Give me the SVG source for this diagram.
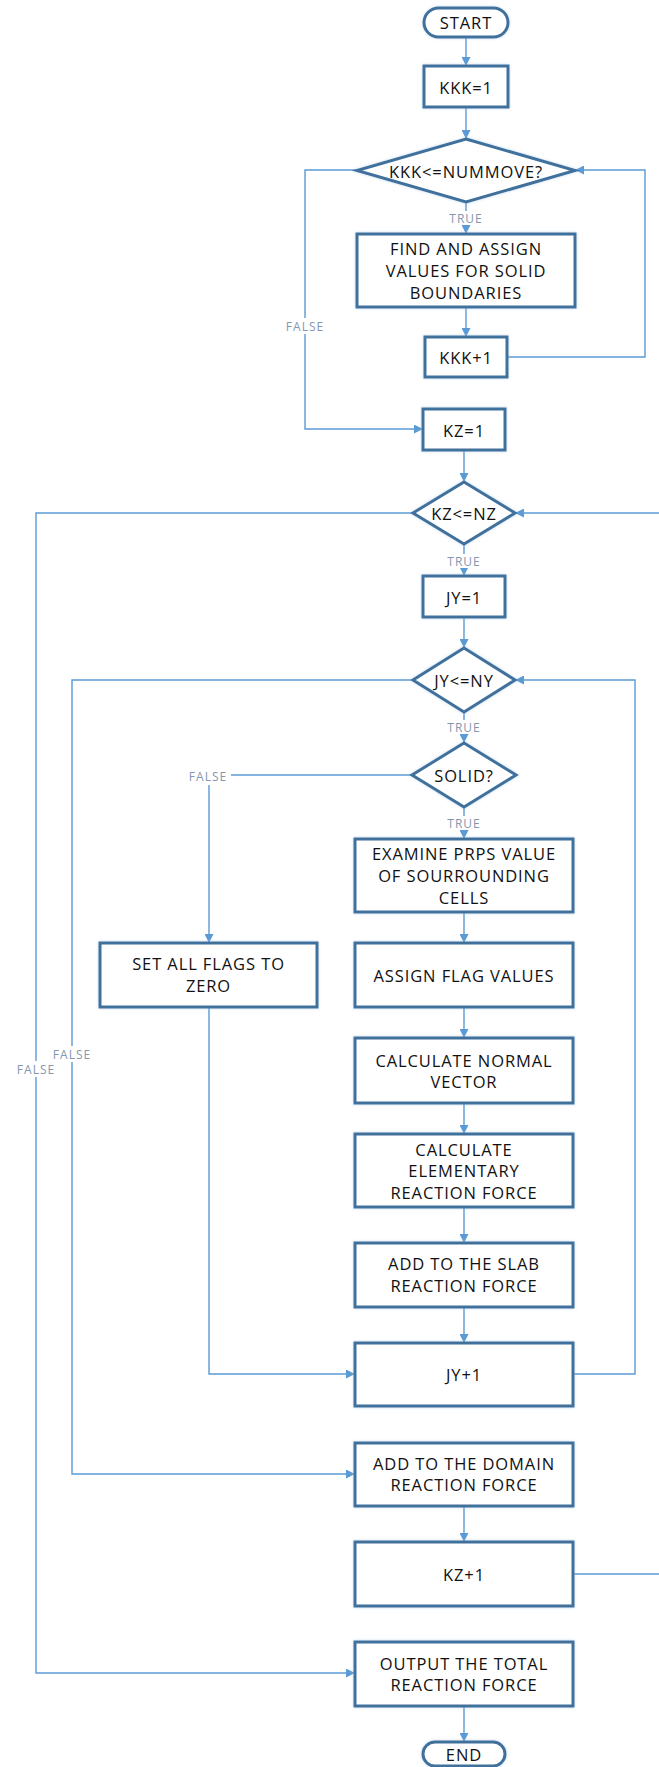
<svg xmlns="http://www.w3.org/2000/svg" width="659" height="1767" viewBox="0 0 659 1767">
<style>
.box{fill:#fff;stroke:#41719C;stroke-width:3;filter:url(#glow)}
.t{font-family:"Open Sans","Liberation Sans",sans-serif;font-size:16.5px;letter-spacing:0.9px;fill:#111;text-anchor:middle;dominant-baseline:central}
.c{fill:none;stroke:#5B9BD5;stroke-width:1.4}
.a{marker-end:url(#ah)}
.lb{font-family:"Open Sans","Liberation Sans",sans-serif;font-size:12px;letter-spacing:1px;fill:#8497B0;text-anchor:middle;dominant-baseline:central}
.bg{fill:#fff}
</style>
<defs>
<marker id="ah" viewBox="0 0 10 10" refX="10" refY="5" markerWidth="9" markerHeight="9" markerUnits="userSpaceOnUse" orient="auto">
<path d="M0,0 L10,5 L0,10 z" fill="#5B9BD5"/>
</marker>
<filter id="glow" x="-10%" y="-20%" width="120%" height="140%">
<feDropShadow dx="0" dy="0" stdDeviation="1.5" flood-color="#9DC3E6" flood-opacity="0.6"/>
</filter>
</defs>

<g id="connectors">
<path class="c a" d="M466,37 V66"/>
<path class="c a" d="M466,107 V139"/>
<path class="c a" d="M466,202 V234"/>
<path class="c a" d="M466,307 V337"/>
<path class="c a" d="M507,357 H645 V170 H575"/>
<path class="c a" d="M357,170 H305 V429 H423"/>
<path class="c a" d="M464,450 V482"/>
<path class="c a" d="M464,544 V576"/>
<path class="c a" d="M464,617 V648"/>
<path class="c a" d="M464,712 V743"/>
<path class="c a" d="M464,807 V839"/>
<path class="c a" d="M464,912 V943"/>
<path class="c a" d="M464,1007 V1038"/>
<path class="c a" d="M464,1103 V1134"/>
<path class="c a" d="M464,1207 V1243"/>
<path class="c a" d="M464,1307 V1343"/>
<path class="c a" d="M464,1506 V1542"/>
<path class="c a" d="M464,1706 V1742"/>
<path class="c a" d="M412,775 H209 V943"/>
<path class="c a" d="M209,1007 V1374 H355"/>
<path class="c a" d="M573,1374 H635 V680 H515"/>
<path class="c a" d="M413,680 H72 V1474 H355"/>
<path class="c a" d="M573,1574 H665 V513 H515"/>
<path class="c a" d="M413,513 H36 V1673 H355"/>
</g>

<g id="labels">
<rect class="bg" x="446" y="211" width="40" height="14"/><text class="lb" x="466" y="218">TRUE</text>
<rect class="bg" x="283" y="318" width="44" height="16"/><text class="lb" x="305" y="326">FALSE</text>
<rect class="bg" x="444" y="554" width="40" height="14"/><text class="lb" x="464" y="561">TRUE</text>
<rect class="bg" x="444" y="720" width="40" height="14"/><text class="lb" x="464" y="727">TRUE</text>
<rect class="bg" x="186" y="767" width="45" height="18"/><text class="lb" x="208" y="776">FALSE</text>
<rect class="bg" x="444" y="816" width="40" height="14"/><text class="lb" x="464" y="823">TRUE</text>
<rect class="bg" x="50" y="1046" width="44" height="16"/><text class="lb" x="72" y="1054">FALSE</text>
<rect class="bg" x="14" y="1061" width="44" height="16"/><text class="lb" x="36" y="1069">FALSE</text>
</g>

<g id="start"><rect class="box" x="424" y="8" width="84" height="29" rx="14.5"/><text class="t" x="466" y="22.5">START</text></g>
<g id="kkk1"><rect class="box" x="424" y="66" width="84" height="41"/><text class="t" x="466" y="87">KKK=1</text></g>
<g id="kkkcond"><polygon class="box" points="466,139 575,170.5 466,202 357,170.5"/><text class="t" x="466" y="171">KKK&lt;=NUMMOVE?</text></g>
<g id="find"><rect class="box" x="357" y="234" width="218" height="73"/><text class="t" x="466" y="248">FIND AND ASSIGN</text><text class="t" x="466" y="270">VALUES FOR SOLID</text><text class="t" x="466" y="292">BOUNDARIES</text></g>
<g id="kkkinc"><rect class="box" x="425" y="337" width="82" height="40"/><text class="t" x="466" y="357">KKK+1</text></g>
<g id="kz1"><rect class="box" x="423" y="409" width="82" height="41"/><text class="t" x="464" y="430">KZ=1</text></g>
<g id="kzcond"><polygon class="box" points="464,482 515,513 464,544 413,513"/><text class="t" x="464" y="513">KZ&lt;=NZ</text></g>
<g id="jy1"><rect class="box" x="423" y="576" width="82" height="41"/><text class="t" x="464" y="597">JY=1</text></g>
<g id="jycond"><polygon class="box" points="464,648 515,680 464,712 413,680"/><text class="t" x="464" y="680">JY&lt;=NY</text></g>
<g id="solid"><polygon class="box" points="464,743 516,775 464,807 412,775"/><text class="t" x="464" y="775">SOLID?</text></g>
<g id="examine"><rect class="box" x="355" y="839" width="218" height="73"/><text class="t" x="464" y="853">EXAMINE PRPS VALUE</text><text class="t" x="464" y="875">OF SOURROUNDING</text><text class="t" x="464" y="897">CELLS</text></g>
<g id="setflags"><rect class="box" x="100" y="943" width="217" height="64"/><text class="t" x="208.5" y="963">SET ALL FLAGS TO</text><text class="t" x="208.5" y="985">ZERO</text></g>
<g id="assign"><rect class="box" x="355" y="943" width="218" height="64"/><text class="t" x="464" y="975">ASSIGN FLAG VALUES</text></g>
<g id="normal"><rect class="box" x="355" y="1038" width="218" height="65"/><text class="t" x="464" y="1060">CALCULATE NORMAL</text><text class="t" x="464" y="1081">VECTOR</text></g>
<g id="elem"><rect class="box" x="355" y="1134" width="218" height="73"/><text class="t" x="464" y="1149">CALCULATE</text><text class="t" x="464" y="1170">ELEMENTARY</text><text class="t" x="464" y="1192">REACTION FORCE</text></g>
<g id="slab"><rect class="box" x="355" y="1243" width="218" height="64"/><text class="t" x="464" y="1263">ADD TO THE SLAB</text><text class="t" x="464" y="1285">REACTION FORCE</text></g>
<g id="jyinc"><rect class="box" x="355" y="1343" width="218" height="63"/><text class="t" x="464" y="1374">JY+1</text></g>
<g id="domain"><rect class="box" x="355" y="1443" width="218" height="63"/><text class="t" x="464" y="1463">ADD TO THE DOMAIN</text><text class="t" x="464" y="1484">REACTION FORCE</text></g>
<g id="kzinc"><rect class="box" x="355" y="1542" width="218" height="64"/><text class="t" x="464" y="1574">KZ+1</text></g>
<g id="output"><rect class="box" x="355" y="1642" width="218" height="64"/><text class="t" x="464" y="1663">OUTPUT THE TOTAL</text><text class="t" x="464" y="1684">REACTION FORCE</text></g>
<g id="end"><rect class="box" x="423" y="1742" width="82" height="24" rx="12"/><text class="t" x="464" y="1754">END</text></g>
</svg>
